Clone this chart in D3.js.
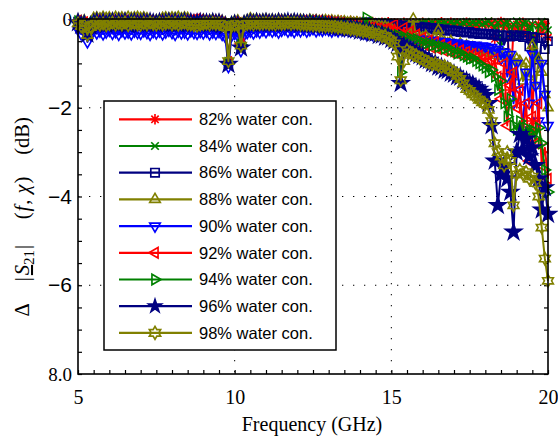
<!DOCTYPE html>
<html><head><meta charset="utf-8">
<script src="https://cdn.jsdelivr.net/npm/d3@7"></script>
<style>body{margin:0;background:#fff}svg{display:block}</style>
</head><body>
<svg id="chart" width="558" height="438"></svg>
<script>
// Frequency sweep: 5 to 20 GHz in 0.1 GHz steps
const freqStart = 5, freqStop = 20, freqStep = 0.1;

// Δ|S21| in dB for each water concentration
const s82 = [-.03,-.08,-.12,-.30,-.10,-.05,-.02,-.06,-.03,-.07,
-.04,-.02,-.06,-.03,-.05,-.02,-.07,-.04,-.03,-.05,
-.06,-.03,-.05,-.02,-.04,-.06,-.03,-.05,-.04,-.02,
-.05,-.03,-.06,-.04,-.02,-.05,-.03,-.06,-.04,-.03,
-.05,-.04,-.06,-.03,-.05,-.04,-.07,-.12,-.98,-.10,
-.06,-.08,-.55,-.10,-.05,-.04,-.06,-.03,-.05,-.04,
-.03,-.05,-.04,-.06,-.03,-.05,-.04,-.02,-.05,-.03,
-.04,-.06,-.03,-.05,-.04,-.02,-.05,-.03,-.06,-.04,
-.03,-.05,-.04,-.06,-.03,-.05,-.07,-.04,-.06,-.05,
-.08,-.05,-.07,-.10,-.06,-.09,-.12,-.08,-.10,-.07,
-.12,-.09,-.11,-.30,-.08,-.10,-.13,-.09,-.12,-.10,
-.08,-.12,-.10,-.14,-.09,-.11,-.07,-.13,-.10,-.08,
-.12,-.09,-.14,-.10,-.08,-.13,-.11,-.15,-.09,-.12,
-.10,-.14,-.08,-.45,-.12,-.06,-.18,-.10,-1.6,-.20,
-.12,-.25,-.08,-.35,-.15,-2.3,-.40,-.12,-.30,-.10,
-.42];

const s84 = [-.05,-.10,-.08,-.28,-.12,-.04,-.06,-.03,-.08,-.05,
-.03,-.06,-.04,-.07,-.02,-.05,-.03,-.06,-.04,-.02,
-.05,-.04,-.07,-.03,-.06,-.02,-.05,-.04,-.06,-.03,
-.04,-.06,-.03,-.05,-.07,-.03,-.04,-.06,-.02,-.05,
-.03,-.06,-.04,-.05,-.03,-.07,-.05,-.10,-.95,-.12,
-.08,-.06,-.58,-.08,-.04,-.06,-.03,-.05,-.07,-.04,
-.05,-.03,-.06,-.04,-.02,-.06,-.03,-.05,-.04,-.06,
-.03,-.05,-.04,-.02,-.06,-.04,-.03,-.05,-.04,-.06,
-.05,-.03,-.06,-.04,-.05,-.07,-.04,-.06,-.05,-.08,
-.06,-.09,-.05,-.08,-.10,-.07,-.09,-.06,-.11,-.08,
-.10,-.12,-.08,-.35,-.11,-.07,-.10,-.12,-.08,-.11,
-.09,-.06,-.11,-.08,-.12,-.07,-.10,-.09,-.13,-.08,
-.10,-.07,-.12,-.09,-.06,-.11,-.08,-.10,-.07,-.12,
-.09,-.05,-.11,-.20,-.08,-.60,-.10,-.07,-.35,-.12,
-.05,-.40,-.10,-.08,-.30,-.12,-.90,-.15,-.06,-.20,
-.25];

const s86 = [-.06,-.12,-.10,-.32,-.14,-.08,-.05,-.09,-.06,-.10,
-.07,-.05,-.09,-.06,-.08,-.05,-.10,-.07,-.06,-.08,
-.09,-.06,-.08,-.05,-.07,-.09,-.06,-.08,-.07,-.05,
-.08,-.06,-.09,-.07,-.05,-.08,-.06,-.09,-.07,-.06,
-.08,-.07,-.09,-.06,-.08,-.07,-.10,-.15,-1.0,-.14,
-.10,-.12,-.60,-.12,-.08,-.07,-.09,-.06,-.08,-.07,
-.06,-.08,-.07,-.09,-.06,-.08,-.07,-.05,-.08,-.06,
-.07,-.09,-.06,-.08,-.07,-.05,-.08,-.06,-.09,-.07,
-.06,-.08,-.07,-.09,-.06,-.08,-.10,-.07,-.09,-.08,
-.08,-.10,-.07,-.11,-.09,-.12,-.10,-.13,-.11,-.14,
-.12,-.15,-.13,-.38,-.16,-.14,-.18,-.15,-.19,-.17,
-.20,-.18,-.22,-.20,-.24,-.22,-.25,-.23,-.27,-.25,
-.28,-.26,-.30,-.28,-.31,-.29,-.33,-.31,-.34,-.32,
-.35,-.33,-.36,-.34,-.38,-.36,-.58,-.37,-.40,-.36,
-.39,-.37,-.41,-.38,-.62,-.40,-.42,-1.1,-.43,-.68,
-.50];

const s88 = [-.02,-.06,-.04,-.25,-.08,.02,.03,.01,.04,.02,
.03,.01,.04,.02,.03,.01,.04,.02,.03,.04,
.02,.03,.01,-.02,-.04,-.03,-.02,.02,.03,.01,
.03,.02,.04,.01,.03,.02,-.03,-.05,-.08,-.06,
-.02,-.04,-.03,-.02,-.04,-.03,-.05,-.08,-.92,-.08,
-.05,-.04,-.50,-.06,-.03,.01,-.02,-.01,-.03,-.02,
-.01,-.03,-.02,-.04,-.01,-.03,-.02,-.04,-.03,-.02,
-.04,-.02,-.03,-.05,-.02,-.04,-.03,-.05,-.04,-.03,
-.05,-.04,-.06,-.05,-.07,-.06,-.08,-.07,-.09,-.08,
-.10,-.12,-.11,-.14,-.13,-.16,-.15,-.18,-.17,-.20,
-.22,-.28,-.45,-.67,-.50,-.40,-.35,.00,-.45,-.40,
-.42,-.38,-.46,-.50,-.44,-.25,-.48,-.52,-.55,-.50,
-.58,-.62,-.55,-.65,-.60,-.68,-.64,-.70,-.66,-.72,
-.75,-.70,-.78,-.82,-.76,-.85,-.80,-.88,-.84,-1.3,
-.90,-.95,-1.4,-1.0,-1.3,-.60,-1.5,-.90,-1.2,-1.7,
-2.0];

const s90 = [-.24,-.34,-.29,-.52,-.36,-.26,-.32,-.28,-.34,-.30,
-.26,-.33,-.29,-.35,-.27,-.32,-.30,-.34,-.28,-.31,
-.33,-.27,-.31,-.35,-.29,-.32,-.28,-.34,-.30,-.26,
-.31,-.35,-.28,-.32,-.30,-.34,-.27,-.31,-.33,-.29,
-.32,-.28,-.34,-.30,-.33,-.29,-.35,-.40,-1.08,-.38,
-.33,-.38,-.72,-.36,-.31,-.28,-.32,-.27,-.30,-.25,
-.29,-.24,-.28,-.25,-.30,-.26,-.23,-.28,-.25,-.29,
-.24,-.27,-.23,-.28,-.25,-.22,-.27,-.24,-.26,-.23,
-.25,-.28,-.24,-.27,-.23,-.26,-.24,-.28,-.25,-.27,
-.30,-.32,-.34,-.31,-.35,-.33,-.37,-.34,-.38,-.36,
-.40,-.37,-.42,-.55,-.44,-.41,-.46,-.43,-.47,-.45,
-.49,-.46,-.51,-.48,-.52,-.50,-.54,-.51,-.55,-.53,
-.57,-.54,-.59,-.56,-.60,-.58,-.62,-.59,-.64,-.61,
-.62,-.66,-.64,-.72,-.68,-.90,-.75,-1.3,-.80,-1.9,
-1.0,-1.6,-2.5,-1.2,-1.9,-.80,-1.5,-2.3,-1.0,-1.7,
-2.4];

const s92 = [-.04,-.09,-.07,-.29,-.11,-.06,-.03,-.07,-.05,-.08,
-.05,-.03,-.07,-.04,-.06,-.03,-.08,-.05,-.04,-.06,
-.07,-.04,-.06,-.03,-.05,-.07,-.04,-.06,-.05,-.03,
-.06,-.04,-.07,-.05,-.03,-.04,-.02,-.01,.00,-.02,
-.04,-.05,-.07,-.04,-.06,-.05,-.08,-.12,-.97,-.11,
-.07,-.09,-.56,-.09,-.06,-.05,-.07,-.04,-.06,-.05,
-.04,-.06,-.05,-.07,-.04,-.06,-.05,-.03,-.06,-.04,
-.05,-.07,-.04,-.06,-.05,-.03,-.06,-.04,-.07,-.05,
-.06,-.08,-.07,-.10,-.09,-.12,-.11,-.14,-.13,-.16,
-.15,-.18,-.17,-.20,-.19,-.22,-.21,-.24,-.23,-.26,
-.30,-.12,-.40,-.55,-.20,-.45,-.28,-.50,-.35,-.55,
-.42,-.60,-.48,-.65,-.52,-.68,-.58,-.72,-.62,-.75,
-.66,-.78,-.70,-.82,-.74,-.85,-.78,-.88,-.82,-.92,
-.86,-.95,-1.1,-.90,-1.3,-1.8,-1.0,-2.4,-1.5,-1.2,
-2.0,-1.6,-2.6,-1.9,-3.2,-2.2,-2.8,-1.9,-3.3,-2.9,
-3.6];

const s94 = [-.05,-.11,-.09,-.30,-.13,-.07,-.04,-.08,-.06,-.09,
-.06,-.04,-.08,-.05,-.07,-.04,-.09,-.06,-.05,-.07,
-.08,-.05,-.07,-.04,-.06,-.08,-.05,-.07,-.06,-.04,
-.07,-.05,-.08,-.06,-.04,-.07,-.05,-.08,-.06,-.05,
-.07,-.06,-.08,-.05,-.07,-.06,-.09,-.13,-.99,-.12,
-.09,-.10,-.58,-.10,-.07,-.06,-.08,-.05,-.07,-.06,
-.05,-.07,-.06,-.08,-.05,-.07,-.06,-.04,-.07,-.05,
-.06,-.08,-.05,-.07,-.06,-.04,-.07,-.05,-.08,-.06,
-.08,-.10,-.09,-.12,-.11,-.14,-.13,-.16,-.15,-.18,
-.18,-.21,.03,-.24,-.23,-.27,-.26,-.30,-.29,-.33,
-.34,-.38,-.36,-1.2,-.40,-.44,-.42,-.47,-.45,-.50,
-.53,-.56,-.54,-.60,-.58,-.63,-.61,-.67,-.65,-.70,
-.73,-.78,-.76,-.82,-.85,-.90,-.88,-.95,-1.0,-1.05,
-1.1,-1.2,-1.15,-1.3,-1.6,-1.4,-1.9,-2.2,-1.8,-2.4,
-2.5,-2.3,-2.6,-2.45,-2.55,-2.5,-2.7,-2.45,-2.8,-3.4,
-3.9];

const s96 = [-.08,-.14,-.12,-.34,-.16,-.10,-.07,-.11,-.08,-.12,
-.09,-.07,-.11,-.08,-.10,-.07,-.12,-.09,-.08,-.10,
-.11,-.08,-.10,-.07,-.09,-.11,-.08,-.10,-.09,-.07,
-.10,-.08,-.11,-.09,-.07,-.10,-.08,-.11,-.09,-.08,
-.10,-.09,-.11,-.08,-.10,-.09,-.12,-.16,-1.02,-.15,
-.12,-.14,-.65,-.13,-.10,-.09,-.11,-.08,-.10,-.09,
-.08,-.10,-.09,-.11,-.08,-.10,-.09,-.07,-.10,-.08,
-.09,-.11,-.10,-.12,-.11,-.13,-.12,-.14,-.13,-.15,
-.16,-.15,-.18,-.17,-.20,-.19,-.22,-.21,-.24,-.23,
-.27,-.26,-.30,-.29,-.33,-.32,-.37,-.36,-.41,-.40,
-.46,-.50,-.55,-1.45,-.62,-.66,-.70,-.74,-.78,-.82,
-.85,-.92,-.93,-1.0,-1.01,-1.08,-1.09,-1.15,-1.16,-1.22,
-1.24,-1.30,-1.31,-1.38,-1.40,-1.46,-1.48,-1.55,-1.58,-1.65,
-1.72,-1.90,-2.4,-3.2,-4.2,-3.5,-3.3,-3.6,-3.9,-4.8,
-3.0,-2.6,-2.95,-2.7,-3.1,-2.9,-3.3,-3.6,-4.3,-3.8,
-4.4];

const s98 = [-.10,-.16,-.14,-.36,-.18,-.12,-.09,-.13,-.10,-.14,
-.11,-.08,-.13,-.09,-.12,-.08,-.14,-.10,-.09,-.12,
-.13,-.09,-.12,-.08,-.11,-.13,-.09,-.12,-.10,-.08,
-.12,-.09,-.13,-.10,-.08,-.12,-.12,-.14,-.15,-.13,
-.11,-.10,-.12,-.09,-.11,-.10,-.13,-.18,-.95,-.16,
-.13,-.15,-.60,-.14,-.11,-.10,-.12,-.09,-.11,-.10,
-.09,-.11,-.10,-.12,-.09,-.11,-.10,-.08,-.11,-.09,
-.10,-.12,-.11,-.13,-.12,-.14,-.13,-.15,-.14,-.16,
-.15,-.17,-.16,-.19,-.18,-.21,-.20,-.23,-.22,-.25,
-.25,-.28,-.27,-.31,-.30,-.35,-.34,-.39,-.38,-.44,
-.48,-.55,-.85,-1.38,-.95,-.70,-.75,-.80,-.82,-.88,
-.90,-.95,-.98,-1.02,-1.00,-1.05,-1.08,-1.06,-1.12,-1.15,
-1.20,-1.28,-1.35,-1.45,-1.58,-1.62,-1.70,-1.75,-1.82,-1.88,
-1.92,-2.05,-2.3,-2.8,-3.0,-3.1,-3.3,-3.0,-3.2,-4.2,
-3.5,-3.4,-3.5,-3.45,-3.6,-3.55,-3.7,-4.0,-4.7,-5.4,
-5.9];

const seriesValues = [s82, s84, s86, s88, s90, s92, s94, s96, s98];
const seriesLabels = ["82% water con.","84% water con.","86% water con.","88% water con.",
  "90% water con.","92% water con.","94% water con.","96% water con.","98% water con."];
const seriesColors = ["#ff0000","#008000","#000080","#808000","#0000ff","#ff0000","#008000","#000080","#808000"];
const seriesMarkers = ["asterisk","cross","square","triUp","triDown","triLeft","triRight","pentagram","hexagram"];

const xTickValues = [5, 10, 15, 20];
const yTickValues = [0, -2, -4, -6, -8];
const yTickLabels = ["0", "\u22122", "\u22124", "\u22126", "8.0"];

const serif = "'Liberation Serif','Times New Roman',serif";
const sans = "'Liberation Sans',Arial,Helvetica,sans-serif";

const svg = d3.select("#chart");
const plot = {left: 78, right: 548, top: 19, bottom: 374};

const x = d3.scaleLinear().domain([5, 20]).range([plot.left, plot.right]);
const y = d3.scaleLinear().domain([-8, 0]).range([plot.bottom, plot.top]);

const freqs = d3.range(0, Math.round((freqStop - freqStart) / freqStep) + 1)
  .map(i => +(freqStart + i * freqStep).toFixed(2));

// dotted grid at the major ticks
const grid = svg.append("g");
grid.selectAll("line.gx").data([10, 15]).join("line")
  .attr("x1", d => x(d)).attr("x2", d => x(d))
  .attr("y1", plot.top).attr("y2", plot.bottom)
  .attr("stroke", "#000").attr("stroke-width", 1).attr("stroke-dasharray", "1.3,9.7");
grid.selectAll("line.gy").data([-2, -4, -6]).join("line")
  .attr("y1", d => y(d)).attr("y2", d => y(d))
  .attr("x1", plot.left).attr("x2", plot.right)
  .attr("stroke", "#000").attr("stroke-width", 1).attr("stroke-dasharray", "1.3,9.7");

// inward ticks on all four sides (every 0.5 unit)
const xMinor = d3.range(5, 20.001, 0.5);
const yMinor = d3.range(-8, 0.001, 0.5);
function tickAxis(axis, tx, ty) {
  const g = svg.append("g").attr("transform", `translate(${tx},${ty})`).call(axis);
  g.select(".domain").remove();
  g.selectAll("line").attr("stroke", "#000").attr("stroke-width", 1.2);
  return g;
}
tickAxis(d3.axisBottom(x).tickValues(xMinor).tickSize(-4).tickFormat(""), 0, plot.bottom);
tickAxis(d3.axisTop(x).tickValues(xMinor).tickSize(-4).tickFormat(""), 0, plot.top);
tickAxis(d3.axisLeft(y).tickValues(yMinor).tickSize(-4).tickFormat(""), plot.left, 0);
tickAxis(d3.axisRight(y).tickValues(yMinor).tickSize(-4).tickFormat(""), plot.right, 0);

// tick labels
const xl = svg.append("g").attr("transform", `translate(0,${plot.bottom})`)
  .call(d3.axisBottom(x).tickValues(xTickValues).tickSize(0).tickPadding(16).tickFormat(d3.format("d")));
xl.select(".domain").remove();
xl.selectAll("text").attr("font-family", serif).attr("font-size", 20).attr("fill", "#000");

const yl = svg.append("g").attr("transform", `translate(${plot.left},0)`)
  .call(d3.axisLeft(y).tickValues(yTickValues).tickSize(0).tickPadding(6)
    .tickFormat((d, i) => yTickLabels[i]));
yl.select(".domain").remove();
yl.selectAll("text").attr("fill", "#000")
  .attr("font-family", d => (d === 0 || d === -8) ? serif : sans)
  .attr("font-size", d => (d === 0 || d === -8) ? 19 : 21);

// marker shapes
function markerPath(type) {
  const p = d3.path();
  switch (type) {
    case "asterisk": {
      const r = 5, q = 3.5;
      p.moveTo(-r, 0); p.lineTo(r, 0); p.moveTo(0, -r); p.lineTo(0, r);
      p.moveTo(-q, -q); p.lineTo(q, q); p.moveTo(-q, q); p.lineTo(q, -q);
      return p.toString();
    }
    case "cross": {
      const r = 3.6;
      p.moveTo(-r, -r); p.lineTo(r, r); p.moveTo(-r, r); p.lineTo(r, -r);
      return p.toString();
    }
    case "square": {
      const r = 4;
      p.rect(-r, -r, 2 * r, 2 * r);
      return p.toString();
    }
    case "triUp": case "triDown": case "triLeft": case "triRight": {
      const r = 5.8;
      const base = [[0, -r], [0.866 * r, 0.5 * r], [-0.866 * r, 0.5 * r]];
      const ang = {triUp: 0, triDown: Math.PI, triLeft: -Math.PI / 2, triRight: Math.PI / 2}[type];
      base.forEach(([px, py], k) => {
        const qx = px * Math.cos(ang) - py * Math.sin(ang);
        const qy = px * Math.sin(ang) + py * Math.cos(ang);
        k ? p.lineTo(qx, qy) : p.moveTo(qx, qy);
      });
      p.closePath();
      return p.toString();
    }
    case "pentagram":
      return d3.symbol(d3.symbolStar, 80)();
    case "hexagram": {
      const R = 6.2, ri = R / Math.sqrt(3);
      for (let k = 0; k < 12; k++) {
        const a = -Math.PI / 2 + k * Math.PI / 6;
        const rr = k % 2 ? ri : R;
        k ? p.lineTo(rr * Math.cos(a), rr * Math.sin(a)) : p.moveTo(rr * Math.cos(a), rr * Math.sin(a));
      }
      p.closePath();
      return p.toString();
    }
  }
}

const line = d3.line().x(d => x(d[0])).y(d => y(d[1]));

// curves, drawn in legend order so the last one sits on top
seriesValues.forEach((vals, si) => {
  const pts = vals.map((v, i) => [freqs[i], v]);
  const g = svg.append("g");
  const col = seriesColors[si];
  g.append("path").attr("d", line(pts)).attr("fill", "none")
    .attr("stroke", col).attr("stroke-width", 2).attr("stroke-linejoin", "round");
  const filled = seriesMarkers[si] === "pentagram";
  g.selectAll("path.m").data(pts).join("path").attr("class", "m")
    .attr("d", markerPath(seriesMarkers[si]))
    .attr("transform", d => `translate(${x(d[0])},${y(d[1])})`)
    .attr("fill", filled ? col : "none")
    .attr("stroke", col).attr("stroke-width", 1.6);
});

// axes box
svg.append("rect").attr("x", plot.left).attr("y", plot.top)
  .attr("width", plot.right - plot.left).attr("height", plot.bottom - plot.top)
  .attr("fill", "none").attr("stroke", "#000").attr("stroke-width", 1.6);

// legend
const lg = svg.append("g");
const lgX = 104, lgY = 101, lgW = 232, lgH = 249, rowH = 26.7, firstRow = 119.3;
lg.append("rect").attr("x", lgX).attr("y", lgY).attr("width", lgW).attr("height", lgH)
  .attr("fill", "#fff").attr("stroke", "#000").attr("stroke-width", 1.5);
seriesLabels.forEach((lab, si) => {
  const cy = firstRow + si * rowH;
  const col = seriesColors[si];
  const mk = seriesMarkers[si];
  lg.append("line").attr("x1", 119).attr("x2", 192).attr("y1", cy).attr("y2", cy)
    .attr("stroke", col).attr("stroke-width", 2.2);
  lg.append("path").attr("d", markerPath(mk))
    .attr("transform", `translate(155,${cy}) scale(${mk === "pentagram" ? 0.85 : 1.05})`)
    .attr("fill", mk === "pentagram" ? col : "none")
    .attr("stroke", col).attr("stroke-width", 1.6);
  lg.append("text").attr("x", 199).attr("y", cy).attr("dy", "0.35em")
    .attr("font-family", sans).attr("font-size", 16.5).attr("fill", "#000").text(lab);
});

// axis titles
svg.append("text").attr("x", 312).attr("y", 431).attr("text-anchor", "middle")
  .attr("font-family", serif).attr("font-size", 20).attr("fill", "#000").text("Frequency (GHz)");

// y title: math-style pieces spaced along the rotated baseline (screen y of each centre)
const yTitle = svg.append("g").attr("transform", "translate(29,0) rotate(-90)")
  .attr("font-family", serif).attr("font-size", 20.5).attr("fill", "#000");
function titlePiece(cy) {
  return yTitle.append("text").attr("x", -cy).attr("y", 0).attr("text-anchor", "middle");
}
titlePiece(310).text("\u0394");
const sPiece = titlePiece(263);
sPiece.append("tspan").text("|");
sPiece.append("tspan").attr("dx", 2).attr("font-style", "italic").attr("text-decoration", "underline").text("S");
sPiece.append("tspan").attr("font-size", 15).attr("dy", 5).text("21");
sPiece.append("tspan").attr("dy", -5).attr("dx", 1).text("|");
const fPiece = titlePiece(198);
fPiece.append("tspan").text("(");
fPiece.append("tspan").attr("dx", 1).attr("font-style", "italic").text("f");
fPiece.append("tspan").attr("dx", 1).text(",");
fPiece.append("tspan").attr("dx", 6).attr("font-style", "italic").text("\u03c7");
fPiece.append("tspan").attr("dx", 1).text(")");
titlePiece(136).text("(dB)");
</script>
</body></html>
